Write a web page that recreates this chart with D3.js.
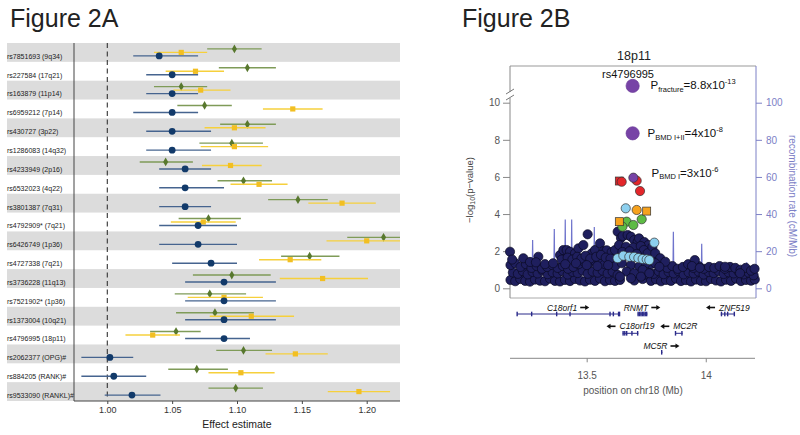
<!DOCTYPE html>
<html><head><meta charset="utf-8">
<script src="https://cdn.jsdelivr.net/npm/d3@7"></script>
<style>body{margin:0;background:#fff}svg{display:block}</style>
</head><body>
<svg id="c" width="800" height="435"></svg>
<script>
// ---------- Figure 2A data ----------
const snpLabels = ["rs7851693 (9q34)","rs227584 (17q21)","rs163879 (11p14)","rs6959212 (7p14)","rs430727 (3p22)","rs1286083 (14q32)","rs4233949 (2p16)","rs6532023 (4q22)","rs3801387 (7q31)","rs4792909* (7q21)","rs6426749 (1p36)","rs4727338 (7q21)","rs3736228 (11q13)","rs7521902* (1p36)","rs1373004 (10q21)","rs4796995 (18p11)","rs2062377 (OPG)#","rs884205 (RANK)#","rs9533090 (RANKL)#"];
const greenEst = [1.098,1.108,1.057,1.075,1.108,1.096,1.045,1.105,1.147,1.078,1.213,1.156,1.096,1.079,1.083,1.053,1.105,1.069,1.099];
const greenLo  = [1.077,1.086,1.036,1.054,1.087,1.071,1.025,1.085,1.124,1.055,1.185,1.134,1.066,1.052,1.053,1.033,1.084,1.047,1.078];
const greenHi  = [1.119,1.130,1.077,1.096,1.130,1.120,1.066,1.127,1.170,1.103,1.242,1.179,1.126,1.107,1.113,1.072,1.127,1.093,1.120];
const yellowEst = [1.057,1.068,1.072,1.143,1.098,1.098,1.095,1.117,1.181,1.074,1.200,1.141,1.166,1.090,1.111,1.035,1.145,1.103,1.194];
const yellowLo  = [1.036,1.045,1.051,1.120,1.075,1.072,1.073,1.095,1.155,1.049,1.169,1.117,1.133,1.062,1.079,1.014,1.122,1.078,1.170];
const yellowHi  = [1.077,1.090,1.095,1.166,1.122,1.124,1.119,1.139,1.207,1.099,1.232,1.165,1.201,1.120,1.144,1.056,1.170,1.129,1.218];
const blueEst = [1.040,1.050,1.050,1.050,1.050,1.050,1.060,1.060,1.060,1.070,1.070,1.080,1.090,1.090,1.090,1.090,1.002,1.005,1.019];
const blueLo  = [1.020,1.030,1.030,1.020,1.030,1.030,1.040,1.040,1.040,1.040,1.040,1.050,1.060,1.060,1.060,1.060,0.980,0.980,0.998];
const blueHi  = [1.070,1.070,1.070,1.070,1.080,1.080,1.080,1.090,1.080,1.100,1.100,1.100,1.130,1.130,1.130,1.110,1.020,1.030,1.041];
const effectTicks = [1.00,1.05,1.10,1.15,1.20];

// ---------- Figure 2B data ----------
const logpTicks = [0,2,4,6,8,10];
const recombTicks = [0,20,40,60,80,100];
const posTicks = [13.5,14];
const navyLow = [[13.180,.45],[13.200,.38],[13.221,.50],[13.242,.40],[13.262,.36],[13.283,.47],[13.304,.41],[13.325,.38],[13.346,.52],[13.367,.40],[13.388,.37],[13.409,.45],[13.430,.39],[13.451,.50],[13.472,.42],[13.493,.37],[13.514,.46],[13.535,.40],[13.556,.52],[13.577,.38],[13.598,.44],[13.619,.40],[13.640,.45],[13.700,.42],[13.735,.50],[13.770,.40],[13.791,.48],[13.812,.38],[13.833,.45],[13.854,.40],[13.875,.52],[13.896,.39],[13.917,.44],[13.938,.37],[13.959,.47],[13.980,.40],[14.001,.38],[14.022,.50],[14.043,.42],[14.064,.37],[14.085,.46],[14.106,.40],[14.127,.52],[14.148,.39],[14.169,.45],[14.190,.41],[14.206,.48]];
const navyMid = [[13.190,.85],[13.211,.78],[13.232,.92],[13.252,.75],[13.273,.88],[13.294,.80],[13.315,.95],[13.336,.76],[13.357,.86],[13.378,.80],[13.399,.92],[13.420,.74],[13.441,.88],[13.462,.82],[13.483,.95],[13.504,.78],[13.525,.90],[13.546,.84],[13.567,.95],[13.588,.80],[13.609,.90],[13.630,.72],[13.745,.75],[13.760,.85],[13.781,.78],[13.802,.92],[13.823,.76],[13.844,.88],[13.865,.80],[13.886,.92],[13.907,.75],[13.928,.86],[13.949,.80],[13.970,.90],[13.991,.74],[14.012,.88],[14.033,.82],[14.054,.93],[14.075,.77],[14.096,.86],[14.117,.80],[14.138,.90],[14.159,.75],[14.180,.84],[14.201,.70]];
const navyHigh = [[13.180,1.25],[13.200,1.35],[13.222,1.15],[13.245,1.30],[13.268,1.10],[13.290,1.20],[13.312,1.05],[13.334,1.15],[13.356,1.25],[13.378,1.10],[13.400,1.20],[13.422,1.05],[13.444,1.15],[13.466,1.30],[13.488,1.45],[13.510,1.35],[13.532,1.50],[13.554,1.40],[13.576,1.30],[13.598,1.45],[13.620,1.20],[13.770,1.30],[13.792,1.45],[13.815,1.25],[13.838,1.10],[13.860,1.20],[13.882,1.05],[13.904,1.15],[13.926,1.30],[13.948,1.10],[13.970,1.20],[13.992,1.05],[14.014,1.15],[14.036,1.10],[14.058,1.20],[14.080,1.05],[14.102,1.15],[14.124,1.10],[14.146,1.00],[14.168,1.10],[14.190,0.95],[14.205,1.05]];
const navyRaised = [[13.178,1.97],[13.187,1.55],[13.234,1.62],[13.262,1.42],[13.297,1.70],[13.287,1.40],[13.325,1.30],[13.359,1.35],
 [13.388,1.79],[13.402,2.06],[13.416,2.06],[13.430,1.97],[13.451,1.88],[13.465,2.15],[13.486,2.33],[13.504,2.91],[13.521,1.88],[13.535,2.06],[13.556,2.42],[13.570,2.00],[13.584,2.05],[13.605,1.95],[13.619,2.06],[13.395,1.55],[13.420,1.65],[13.440,1.55],[13.460,1.70],[13.478,1.60],[13.495,1.75],[13.515,1.60],[13.540,1.70],[13.560,1.80],[13.580,1.65],[13.600,1.60],[13.410,1.30],[13.455,1.35],[13.500,1.25],[13.545,1.20],[13.590,1.25],
 [13.630,3.05],[13.644,2.71],[13.651,2.82],[13.672,2.87],[13.686,2.78],[13.700,2.60],[13.714,2.51],[13.720,2.69],[13.742,2.49],[13.759,2.33],[13.636,2.33],[13.665,2.24],[13.696,2.20],[13.727,2.28],[13.740,2.06],[13.756,1.89],[13.650,1.96],[13.680,2.00],[13.710,1.85],[13.648,1.35],[13.686,1.26],[13.721,1.17],[13.749,1.35],[13.668,0.90],[13.700,0.81],[13.735,0.99],[13.640,0.63],[13.686,0.54],[13.728,0.63],[13.763,0.81],
 [13.776,2.24],[13.788,1.89],[13.809,1.62],[13.830,1.43],[13.788,1.35],[13.805,1.16],[13.954,1.52],[13.942,1.20],[13.975,1.10],[14.081,1.16],[14.144,0.81]];
const lightBlueSnps = [[13.630,1.62],[13.654,1.76],[13.679,1.70],[13.699,1.69],[13.717,1.63],[13.735,1.58],[13.752,1.56],[13.763,1.52],[13.664,4.31],[13.784,2.46]];
const greenSnps = [[13.668,3.59],[13.650,3.32],[13.696,3.41],[13.731,3.72]];
const orangeSnps = [[13.710,4.22,"c"],[13.752,4.16,"s"],[13.637,3.59,"s"]];
const redSnps = [[13.637,5.78,"s"],[13.647,5.74,"c"],[13.710,5.80,"c"],[13.724,5.24,"c"]];
const purpleSnps = [[13.693,12.06,"big"],[13.693,8.35,"big"],[13.696,5.96,"small"]];
const recomb = [[13.178,4.5],[13.211,4.5],[13.213,16],[13.215,4.5],[13.271,4.5],[13.273,26],[13.275,4.5],[13.362,4.5],[13.364,32],[13.366,4.5],[13.408,4.5],[13.410,37],[13.412,4.5],[13.435,4.5],[13.437,37],[13.439,4.5],[13.530,4.5],[13.532,33],[13.534,4.5],[13.550,4.5],[13.552,18],[13.554,4.5],[13.625,4.5],[13.627,22],[13.636,12],[13.700,13],[13.760,11],[13.768,5],[13.862,4.5],[13.864,30.5],[13.866,4.5],[13.981,4.5],[13.983,24],[13.985,4.5],[14.170,4.5],[14.172,14],[14.174,4.5],[14.211,4.5]];
const geneNames = ["C18orf1","RNMT","ZNF519","C18orf19","MC2R","MC5R"];
const geneStart = [13.208,13.714,14.063,13.651,13.871,13.814];
const geneEnd   = [13.640,13.755,14.123,13.717,13.903,13.818];
const geneRow   = [0,0,0,1,1,2];
const geneStrand= ["+","+","-","-","-","+"];
const geneExons = [[13.208,13.269,13.374,13.430,13.598,13.612,13.634,13.638],[13.716,13.722,13.728,13.734,13.740,13.746,13.752],[14.066,14.080,14.092,14.120],[13.653,13.660,13.668,13.690,13.714],[13.873,13.900],[13.815]];
const pLabels = [["fracture","8.8x10","-13"],["BMD I+II","4x10","-8"],["BMD I","3x10","-6"]];

// ---------- drawing ----------
const F = "'Liberation Sans', Arial, sans-serif";
const svg = d3.select("#c");
svg.append("text").attr("x",10).attr("y",27).text("Figure 2A").style("font-family",F).style("font-size","25px").attr("fill","#222");
svg.append("text").attr("x",462).attr("y",27).text("Figure 2B").style("font-family",F).style("font-size","25px").attr("fill","#222");

// Figure 2A
const gA = svg.append("g");
const fx = d3.scaleLinear().domain([1.0,1.2]).range([107.3,366.7]);
const fy = d3.scaleBand().domain(d3.range(snpLabels.length)).range([43,401]);
const bw = fy.bandwidth();
gA.selectAll("rect.band").data(d3.range(snpLabels.length).filter(i=>i%2===0)).join("rect")
  .attr("x",7).attr("width",393).attr("y",i=>fy(i)).attr("height",bw).attr("fill","#dcdcdc");
gA.selectAll("text.lab").data(snpLabels).join("text")
  .attr("x",7).attr("y",(d,i)=>fy(i)+bw/2+4.5).attr("dominant-baseline","middle")
  .style("font-family",F).style("font-size","7px").attr("fill","#222").text(d=>d);
gA.append("line").attr("x1",74).attr("x2",74).attr("y1",43).attr("y2",401).attr("stroke","#444").attr("stroke-width",1);
gA.append("line").attr("x1",fx(1)).attr("x2",fx(1)).attr("y1",43).attr("y2",400).attr("stroke","#333").attr("stroke-width",1.1).attr("stroke-dasharray","5,3.5");
svg.append("clipPath").attr("id","clipA").append("rect").attr("x",74).attr("y",40).attr("width",326).attr("height",362);
const series = [
  {est:greenEst,lo:greenLo,hi:greenHi,off:-3.5,line:"#7f9b58",fill:"#58782e",shape:"d"},
  {est:yellowEst,lo:yellowLo,hi:yellowHi,off:0,line:"#f6d03c",fill:"#f2bf22",shape:"s"},
  {est:blueEst,lo:blueLo,hi:blueHi,off:3.5,line:"#46648f",fill:"#123a6a",shape:"c"}];
const gMarks = gA.append("g").attr("clip-path","url(#clipA)");
series.forEach(s=>{
  const idx = d3.range(snpLabels.length);
  gMarks.selectAll(null).data(idx).join("line")
    .attr("x1",i=>fx(s.lo[i])).attr("x2",i=>fx(s.hi[i]))
    .attr("y1",i=>fy(i)+bw/2+s.off).attr("y2",i=>fy(i)+bw/2+s.off)
    .attr("stroke",s.line).attr("stroke-width",1.4);
  const cy = i=>fy(i)+bw/2+s.off;
  if(s.shape==="c"){
    gMarks.selectAll(null).data(idx).join("circle").attr("cx",i=>fx(s.est[i])).attr("cy",cy).attr("r",3.4).attr("fill",s.fill);
  } else if(s.shape==="s"){
    gMarks.selectAll(null).data(idx).join("rect").attr("x",i=>fx(s.est[i])-2.6).attr("y",i=>cy(i)-2.6).attr("width",5.2).attr("height",5.2).attr("fill",s.fill);
  } else {
    gMarks.selectAll(null).data(idx).join("path").attr("d",d3.symbol(d3.symbolDiamond,22)())
      .attr("transform",i=>`translate(${fx(s.est[i])},${cy(i)})`).attr("fill",s.fill);
  }
});
gA.append("line").attr("x1",74).attr("x2",400).attr("y1",401).attr("y2",401).attr("stroke","#444");
const axA = gA.append("g").attr("transform","translate(0,401)")
  .call(d3.axisBottom(fx).tickValues(effectTicks).tickFormat(d3.format(".2f")).tickSize(3).tickPadding(3));
axA.select(".domain").remove();
axA.selectAll("line").attr("stroke","#444");
axA.selectAll("text").style("font-family",F).style("font-size","9px").attr("fill","#333");
gA.append("text").attr("x",237).attr("y",428).attr("text-anchor","middle").style("font-family",F).style("font-size","10.5px").attr("fill","#222").text("Effect estimate");

// Figure 2B
const gB = svg.append("g");
const px = d3.scaleLinear().domain([13.178,14.211]).range([510,756]);
const py = d3.scaleLinear().domain([0,10,14.5]).range([288.3,102.7,66]);
const ry = d3.scaleLinear().domain([0,100]).range([288.3,102.7]);
const RC = "#7c80c6";
gB.append("text").attr("x",634).attr("y",60).attr("text-anchor","middle").style("font-family",F).style("font-size","12.5px").attr("fill","#222").text("18p11");
// frame
gB.append("line").attr("x1",510).attr("x2",756).attr("y1",66).attr("y2",66).attr("stroke","#999");
gB.append("line").attr("x1",510).attr("x2",756).attr("y1",298).attr("y2",298).attr("stroke","#aaa");
gB.append("line").attr("x1",510).attr("x2",510).attr("y1",66).attr("y2",92).attr("stroke","#888");
gB.append("line").attr("x1",510).attr("x2",510).attr("y1",98).attr("y2",298).attr("stroke","#888");
gB.append("line").attr("x1",506).attr("x2",514).attr("y1",94).attr("y2",89).attr("stroke","#777");
gB.append("line").attr("x1",506).attr("x2",514).attr("y1",100).attr("y2",95).attr("stroke","#777");
gB.append("line").attr("x1",756).attr("x2",756).attr("y1",66).attr("y2",298).attr("stroke",RC);
const axL = gB.append("g").attr("transform","translate(510,0)").call(d3.axisLeft(py).tickValues(logpTicks).tickSize(7).tickPadding(3));
axL.select(".domain").remove();
axL.selectAll("line").attr("stroke","#888");
axL.selectAll("text").style("font-family",F).style("font-size","10px").attr("fill","#555");
const axR = gB.append("g").attr("transform","translate(756,0)").call(d3.axisRight(ry).tickValues(recombTicks).tickSize(6).tickPadding(4));
axR.select(".domain").remove();
axR.selectAll("line").attr("stroke",RC);
axR.selectAll("text").style("font-family",F).style("font-size","10px").attr("fill",RC);
gB.append("text").attr("transform","translate(473,190) rotate(-90)").attr("text-anchor","middle").style("font-family",F).style("font-size","9.5px").attr("fill","#444")
  .call(t=>{t.append("tspan").text("\u2212log");t.append("tspan").attr("dy",2).style("font-size","7px").text("10");t.append("tspan").attr("dy",-2).text("(p\u2212value)");});
gB.append("text").attr("transform","translate(789,196) rotate(90)").attr("text-anchor","middle").style("font-family",F).style("font-size","10px").attr("fill",RC).text("recombination rate (cM/Mb)");
// recomb line
gB.append("path").datum(recomb).attr("d",d3.line().x(d=>px(d[0])).y(d=>ry(d[1])))
  .attr("fill","none").attr("stroke","#6f74cc").attr("stroke-width",1.2);
// points
const R = 4.6;
const navyAll = navyLow.concat(navyMid, navyHigh, navyRaised);
gB.selectAll("circle.navy").data(navyAll).join("circle").attr("cx",d=>px(d[0])).attr("cy",d=>py(d[1])).attr("r",R)
  .attr("fill","#1f1f5e").attr("stroke","#0a0a22").attr("stroke-width",0.7);
function drawPts(data,color){
  data.forEach(d=>{
    if(d[2]==="s"){
      gB.append("rect").attr("x",px(d[0])-4).attr("y",py(d[1])-4).attr("width",8).attr("height",8).attr("fill",color).attr("stroke","#333").attr("stroke-width",0.7);
    } else {
      gB.append("circle").attr("cx",px(d[0])).attr("cy",py(d[1])).attr("r",R).attr("fill",color).attr("stroke","#333").attr("stroke-width",0.7);
    }
  });
}
drawPts(lightBlueSnps,"#8dd0ef");
drawPts(greenSnps,"#5dbb44");
drawPts(orangeSnps,"#f6a21e");
drawPts(redSnps,"#e3262a");
purpleSnps.forEach(d=>{
  gB.append("circle").attr("cx",px(d[0])).attr("cy",py(d[1])).attr("r",d[2]==="big"?6.6:R)
    .attr("fill","#7743a6").attr("stroke",d[2]==="big"?"#6a3a98":"#333").attr("stroke-width",0.7);
});
gB.append("text").attr("x",628).attr("y",78).attr("text-anchor","middle").style("font-family",F).style("font-size","11px").attr("fill","#111").text("rs4796995");
const pX = [650.5,647.5,651.5], pY = [89.3,137.3,176.7];
pLabels.forEach((p,i)=>{
  const t = gB.append("text").attr("x",pX[i]).attr("y",pY[i]).style("font-family",F).style("font-size","11.5px").attr("fill","#111");
  t.append("tspan").text("P");
  t.append("tspan").attr("dy",2.5).style("font-size","7.5px").text(p[0]);
  t.append("tspan").attr("dy",-2.5).text("="+p[1]);
  t.append("tspan").attr("dy",-5).style("font-size","7.5px").text(p[2]);
});
// genes
const rowLabelY = [310.5,329.3,349], rowGeneY = [314,333.3,352.3];
geneNames.forEach((name,i)=>{
  const gy = rowGeneY[geneRow[i]];
  gB.append("line").attr("x1",px(geneStart[i])).attr("x2",Math.max(px(geneEnd[i]),px(geneStart[i])+0.5)).attr("y1",gy).attr("y2",gy).attr("stroke","#2a2a8a").attr("stroke-width",1);
  geneExons[i].forEach(e=>gB.append("rect").attr("x",px(e)-0.7).attr("y",gy-2.3).attr("width",1.4).attr("height",4.6).attr("fill","#2a2a8a"));
  const cx = (px(geneStart[i])+px(geneEnd[i]))/2;
  const t = gB.append("text").attr("y",rowLabelY[geneRow[i]]).style("font-family",F).style("font-size","8.5px").style("font-style","italic").attr("fill","#111").text(name);
  const w = t.node().getComputedTextLength();
  const total = w + 13;
  const left = cx - total/2;
  const ay = rowLabelY[geneRow[i]] - 3;
  let ax1, ax2;
  if(geneStrand[i]==="+"){ t.attr("x",left); ax1 = left+w+3; ax2 = left+w+12; }
  else { t.attr("x",left+13); ax1 = left+9; ax2 = left; }
  const dir = Math.sign(ax2-ax1);
  gB.append("line").attr("x1",ax1).attr("x2",ax2-dir*2).attr("y1",ay).attr("y2",ay).attr("stroke","#111").attr("stroke-width",1.6);
  gB.append("path").attr("d",`M${ax2},${ay}L${ax2-dir*4},${ay-2.6}L${ax2-dir*4},${ay+2.6}Z`).attr("fill","#111");
});
gB.append("line").attr("x1",510).attr("x2",755).attr("y1",358.3).attr("y2",358.3).attr("stroke","#888");
const axB = gB.append("g").attr("transform","translate(0,358.3)").call(d3.axisBottom(px).tickValues(posTicks).tickFormat(d=>d===14?"14":"13.5").tickSize(4).tickPadding(10));
axB.select(".domain").remove();
axB.selectAll("line").attr("stroke","#888");
axB.selectAll("text").style("font-family",F).style("font-size","10px").attr("fill","#555");
gB.append("text").attr("x",633).attr("y",394).attr("text-anchor","middle").style("font-family",F).style("font-size","10px").attr("fill","#555").text("position on chr18 (Mb)");
</script>
</body></html>
